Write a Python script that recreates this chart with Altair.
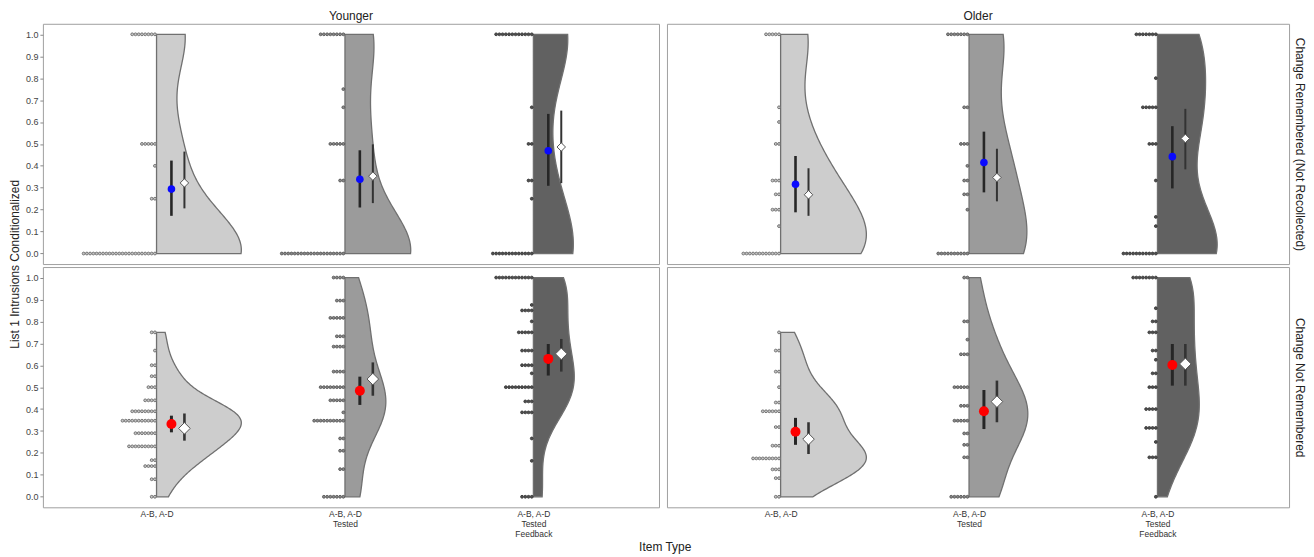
import json
import altair as alt
import numpy as np
import pandas as pd

ages = ["Younger", "Older"]
conds = ["Change Remembered (Not Recollected)", "Change Not Remembered"]
item_lines = [["A-B, A-D"], ["A-B, A-D", "Tested"], ["A-B, A-D", "Tested", "Feedback"]]
y_ticks = [0.0, 0.1, 0.2, 0.3, 0.4, 0.5, 0.6, 0.7, 0.8, 0.9, 1.0]

# ---- individual participant values (dot strips): values and number of dots, per item type
yr_cr_vals = [[0, 0.25, 0.4, 0.5, 1.0],
              [0, 0.333, 0.5, 0.667, 0.75, 1.0],
              [0, 0.25, 0.333, 0.5, 0.667, 1.0]]
yr_cr_cnts = [[23, 2, 1, 5, 8],
              [20, 2, 5, 1, 1, 8],
              [13, 1, 2, 2, 1, 12]]

old_cr_vals = [[0, 0.125, 0.2, 0.27, 0.333, 0.5, 0.6, 0.667, 1.0],
               [0, 0.2, 0.27, 0.333, 0.4, 0.5, 0.667, 1.0],
               [0, 0.125, 0.167, 0.333, 0.5, 0.667, 0.8, 1.0]]
old_cr_cnts = [[12, 1, 3, 2, 3, 2, 1, 1, 5],
               [10, 1, 2, 2, 1, 3, 2, 7],
               [11, 1, 1, 1, 3, 5, 1, 7]]

yr_cnr_vals = [[0, 0.08, 0.14, 0.167, 0.23, 0.29, 0.347, 0.39, 0.44, 0.5, 0.55, 0.6, 0.667, 0.75],
               [0, 0.126, 0.21, 0.266, 0.347, 0.385, 0.44, 0.5, 0.571, 0.685, 0.732, 0.816, 0.895, 1.0],
               [0, 0.164, 0.266, 0.385, 0.435, 0.5, 0.563, 0.6, 0.667, 0.75, 0.8, 0.85, 0.875, 1.0]]
yr_cnr_cnts = [[2, 2, 4, 2, 9, 7, 11, 8, 4, 3, 2, 2, 1, 2],
               [7, 2, 2, 2, 10, 1, 5, 8, 4, 4, 3, 5, 3, 4],
               [4, 1, 1, 4, 3, 9, 1, 4, 4, 5, 1, 4, 1, 12]]

old_cnr_vals = [[0, 0.085, 0.125, 0.175, 0.233, 0.318, 0.39, 0.43, 0.5, 0.571, 0.667, 0.75],
                [0, 0.18, 0.237, 0.289, 0.347, 0.415, 0.5, 0.65, 0.717, 0.8, 1.0],
                [0, 0.18, 0.25, 0.314, 0.4, 0.5, 0.563, 0.625, 0.667, 0.75, 0.8, 0.86, 1.0]]
old_cnr_cnts = [[2, 2, 3, 9, 3, 2, 6, 2, 1, 2, 2, 1],
                [6, 2, 2, 2, 5, 3, 5, 3, 1, 2, 2],
                [1, 3, 1, 4, 4, 3, 2, 1, 2, 3, 2, 1, 8]]

# ---- peak half-width of each violin (x units, one item type = 1)
yr_cr_peak = [0.45, 0.349, 0.212]
old_cr_peak = [0.455, 0.307, 0.317]
yr_cnr_peak = [0.45, 0.217, 0.217]
old_cnr_peak = [0.455, 0.312, 0.222]

# ---- point estimates (circle) and diamonds with their intervals
yr_cr_mean, yr_cr_mean_lo, yr_cr_mean_hi = [0.294, 0.339, 0.469], [0.172, 0.21, 0.309], [0.424, 0.471, 0.637]
yr_cr_diam, yr_cr_diam_lo, yr_cr_diam_hi = [0.322, 0.353, 0.486], [0.206, 0.23, 0.321], [0.465, 0.498, 0.652]
old_cr_mean, old_cr_mean_lo, old_cr_mean_hi = [0.316, 0.415, 0.442], [0.188, 0.279, 0.297], [0.445, 0.556, 0.581]
old_cr_diam, old_cr_diam_lo, old_cr_diam_hi = [0.268, 0.347, 0.525], [0.172, 0.238, 0.384], [0.389, 0.478, 0.66]
yr_cnr_mean, yr_cnr_mean_lo, yr_cnr_mean_hi = [0.332, 0.484, 0.629], [0.294, 0.419, 0.553], [0.37, 0.548, 0.697]
yr_cnr_diam, yr_cnr_diam_lo, yr_cnr_diam_hi = [0.312, 0.537, 0.652], [0.256, 0.461, 0.571], [0.38, 0.613, 0.72]
old_cnr_mean, old_cnr_mean_lo, old_cnr_mean_hi = [0.297, 0.39, 0.601], [0.237, 0.309, 0.507], [0.36, 0.487, 0.697]
old_cnr_diam, old_cnr_diam_lo, old_cnr_diam_hi = [0.263, 0.434, 0.606], [0.195, 0.34, 0.507], [0.34, 0.53, 0.697]

# ---------------- styling / scales
FONT = "Liberation Sans"
PX_PER_UNIT = 189.0
X0_PX = 114.0
WIDTHS = [618, 624]
H = 241
YDOM = [-0.048, 1.048]
label_expr = ("datum.value == 0 ? " + json.dumps(item_lines[0]) +
              " : datum.value == 1 ? " + json.dumps(item_lines[1]) +
              " : " + json.dumps(item_lines[2]))

x_axis = alt.Axis(values=[0, 1, 2], labelExpr=label_expr, title=None, grid=False,
                  ticks=False, domain=False, labelPadding=2, labelFontSize=8.5,
                  labelLineHeight=10, labelColor="#333", labelFont=FONT)
y_axis = alt.Axis(values=y_ticks, format=".1f", title=None, grid=False,
                  domain=False, tickSize=3, tickColor="#888", labelFontSize=9,
                  labelColor="#444", labelPadding=2, labelFont=FONT)


def X(field, show, xdom):
    return alt.X(field, type="quantitative",
                 scale=alt.Scale(domain=xdom, nice=False, zero=False),
                 axis=x_axis if show else None)


def Y(field, axis):
    return alt.Y(field, type="quantitative",
                 scale=alt.Scale(domain=YDOM, nice=False, zero=False), axis=axis)


fill_expr = "['#cdcdcd', '#9b9b9b', '#616161'][datum.item]"
dot_fill_expr = "['#c8c8c8', '#8a8a8a', '#505050'][datum.item]"
dot_stroke_expr = "['#6a6a6a', '#555555', '#383838'][datum.item]"


def panel(row, col, vals, cnts, peak, summ):
    w = WIDTHS[col]
    xdom = [-X0_PX / PX_PER_UNIT, (w - X0_PX) / PX_PER_UNIT]
    obs_rows, sum_rows = [], []
    bws = []
    for item in range(3):
        obs = []
        for v, c in zip(vals[item], cnts[item]):
            for _ in range(c):
                obs.append(v)
                obs_rows.append(dict(kind="obs", item=item, value=v, wmax=peak[item]))
        arr = np.array(obs, dtype=float)
        bws.append((float(arr.std(ddof=1) * len(arr) ** (-1 / 5)), float(arr.min()), float(arr.max())))
        sum_rows.append(dict(kind="sum", item=item,
                             est_m=summ[0][item], lo_m=summ[1][item], hi_m=summ[2][item],
                             est_d=summ[3][item], lo_d=summ[4][item], hi_d=summ[5][item]))
    df = pd.DataFrame(obs_rows + sum_rows)

    show_x = row == 1
    if col == 0:
        yax = y_axis
    else:
        yax = alt.Axis(orient="right", title=conds[row], labels=False, ticks=False,
                       domain=False, grid=False, titleAngle=90, titleFontSize=12,
                       titleFontWeight="normal", titleColor="#222", titleFont=FONT,
                       titlePadding=3)

    base = alt.Chart(df)
    layers = []
    for item, (bw, lo, hi) in enumerate(bws):
        layers.append(
            base.transform_filter(f"datum.kind == 'obs' && datum.item == {item}")
            .transform_density("value", as_=["value", "density"], bandwidth=bw, extent=[lo, hi],
                               groupby=["item", "wmax"], steps=120)
            .transform_joinaggregate(maxd="max(density)")
            .transform_calculate(xr="datum.item + datum.density / datum.maxd * datum.wmax",
                                 vf=fill_expr)
            .mark_area(orient="horizontal", stroke="#707070", strokeWidth=1.3,
                       interpolate="monotone")
            .encode(y=Y("value", yax), x=X("xr", show_x, xdom),
                    x2=alt.X2("item"), fill=alt.Fill("vf:N", scale=None))
        )

    dots = (
        base.transform_filter("datum.kind == 'obs'")
        .transform_window(rk="row_number()", groupby=["item", "value"])
        .transform_calculate(xd="datum.item - (datum.rk - 0.5) * 0.0172",
                             df_=dot_fill_expr, ds_=dot_stroke_expr)
        .mark_circle(size=8, strokeWidth=0.9, opacity=1)
        .encode(x=X("xd", show_x, xdom), y=Y("value", yax),
                fill=alt.Fill("df_:N", scale=None), stroke=alt.Stroke("ds_:N", scale=None))
    )

    top = row == 0
    s = base.transform_filter("datum.kind == 'sum'").transform_calculate(
        xm="datum.item + 0.079", xdm="datum.item + 0.148")
    mean_err = s.mark_rule(color="#262626", strokeWidth=2.6 if top else 3).encode(
        x=X("xm", show_x, xdom), y=Y("lo_m", yax), y2=alt.Y2("hi_m"))
    mean_pt = s.mark_circle(opacity=1, color="#0a0aff" if top else "#ff0000",
                            size=58 if top else 100).encode(
        x=X("xm", show_x, xdom), y=Y("est_m", yax))
    diam_err = s.mark_rule(color="#333333", strokeWidth=2 if top else 2.6).encode(
        x=X("xdm", show_x, xdom), y=Y("lo_d", yax), y2=alt.Y2("hi_d"))
    diam_pt = s.mark_point(shape="diamond", filled=True, fill="white", stroke="#555555",
                           strokeWidth=1, opacity=1, size=72 if top else 135).encode(
        x=X("xdm", show_x, xdom), y=Y("est_d", yax))

    ch = alt.layer(*layers, dots, mean_err, mean_pt, diam_err, diam_pt).properties(width=w, height=H)
    if top:
        ch = ch.properties(title=alt.TitleParams(ages[col], fontSize=12, fontWeight="normal",
                                                 color="#222", font=FONT, frame="group",
                                                 anchor="middle", offset=1))
    return ch


TL = panel(0, 0, yr_cr_vals, yr_cr_cnts, yr_cr_peak,
           (yr_cr_mean, yr_cr_mean_lo, yr_cr_mean_hi, yr_cr_diam, yr_cr_diam_lo, yr_cr_diam_hi))
TR = panel(0, 1, old_cr_vals, old_cr_cnts, old_cr_peak,
           (old_cr_mean, old_cr_mean_lo, old_cr_mean_hi, old_cr_diam, old_cr_diam_lo, old_cr_diam_hi))
BL = panel(1, 0, yr_cnr_vals, yr_cnr_cnts, yr_cnr_peak,
           (yr_cnr_mean, yr_cnr_mean_lo, yr_cnr_mean_hi, yr_cnr_diam, yr_cnr_diam_lo, yr_cnr_diam_hi))
BR = panel(1, 1, old_cnr_vals, old_cnr_cnts, old_cnr_peak,
           (old_cnr_mean, old_cnr_mean_lo, old_cnr_mean_hi, old_cnr_diam, old_cnr_diam_lo, old_cnr_diam_hi))

top_row = alt.hconcat(TL, TR, spacing=6)
bottom_row = alt.hconcat(BL, BR, spacing=6).properties(
    title=alt.TitleParams("Item Type", orient="bottom", anchor="middle", fontSize=12,
                          fontWeight="normal", color="#222", font=FONT, offset=4))

chart = alt.vconcat(top_row, bottom_row, spacing=1).properties(
    padding=0,
    title=alt.TitleParams("List 1 Intrusions Conditionalized", orient="left", anchor="middle",
                          fontSize=12, fontWeight="normal", color="#222", font=FONT,
                          offset=3, dx=17)
).configure(font=FONT, background="white").configure_view(stroke="#a0a0a0", strokeWidth=1)

chart.save("out.html", embed_options={"renderer": "svg", "actions": False})
